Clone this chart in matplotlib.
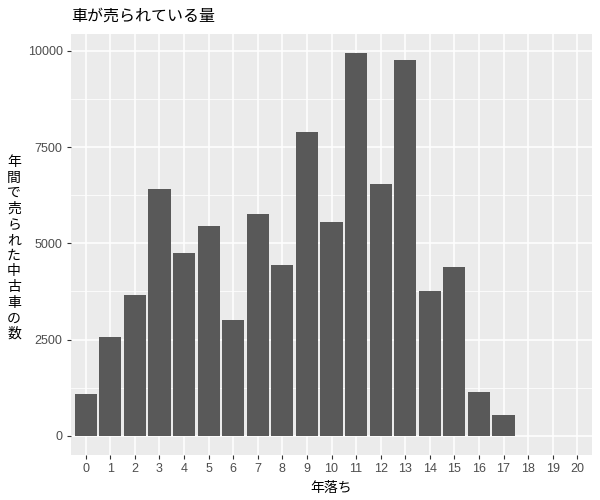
import matplotlib.pyplot as plt
import numpy as np

plt.rcParams['font.family'] = ['Noto Sans CJK JP', 'DejaVu Sans']

# 年落ち (years old) and cars sold per year
ages = list(range(0, 18))
counts = [1100, 2580, 3665, 6410, 4755, 5455, 3015, 5765, 4445, 7890,
          5555, 9940, 6545, 9760, 3770, 4390, 1150, 530]
xticks = list(range(0, 21))
yticks = [0, 2500, 5000, 7500, 10000]

title = '車が売られている量'
xlabel = '年落ち'
ylabel = '年間で売られた中古車の数'

fig = plt.figure(figsize=(6, 5), dpi=100)
ax = fig.add_axes([71 / 600, 45 / 500, 521 / 600, 421 / 500])
ax.set_facecolor('#EBEBEB')

ax.bar(ages, counts, width=0.9, color='#595959', zorder=3)

ax.set_xlim(-0.6, 20.6)
ax.set_ylim(-497, 10437)
ax.set_xticks(xticks)
ax.set_xticklabels([str(t) for t in xticks])
ax.set_yticks(yticks)
ax.set_yticks([1250, 3750, 6250, 8750], minor=True)

ax.grid(which='major', color='white', linewidth=1.1, zorder=1)
ax.grid(which='minor', axis='y', color='white', linewidth=0.55, zorder=1)
ax.tick_params(which='major', length=3, width=0.8, color='#333333',
               labelcolor='#4D4D4D', labelsize=9, pad=3)
ax.tick_params(which='minor', length=0)
for lbl in ax.get_xticklabels() + ax.get_yticklabels():
    lbl.set_family('Liberation Sans')
for s in ax.spines.values():
    s.set_visible(False)

fig.text(71 / 600, 1 - 16 / 500, title, fontsize=11.5, ha='left', va='center', color='black')
fig.text((71 + 592) / 2 / 600, 1 - 488 / 500, xlabel, fontsize=10, ha='center', va='center')
fig.text(14 / 600, 1 - 248 / 500, '\n'.join(ylabel), fontsize=10, ha='center', va='center',
         linespacing=1.15)

fig.savefig('out.png', dpi=100)
